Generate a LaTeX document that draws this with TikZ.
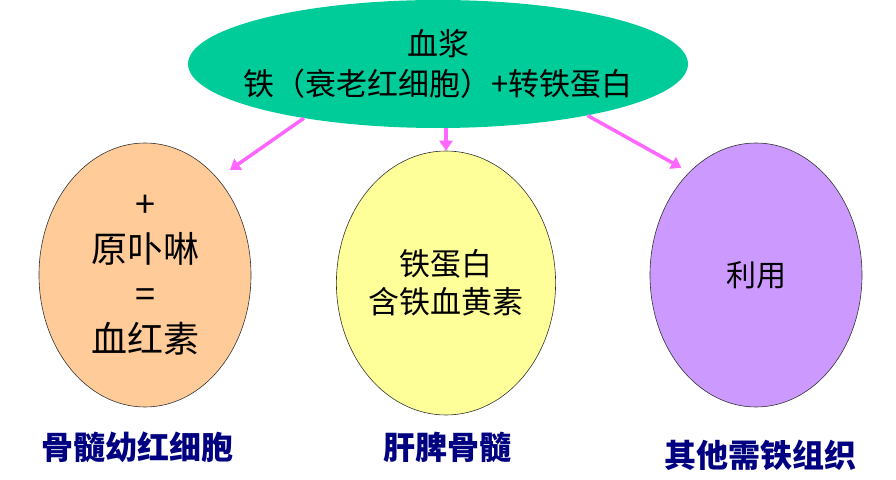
\documentclass[tikz,border=0pt]{standalone}
\usepackage{fontspec}
\setmainfont{Noto Sans CJK SC}
\usetikzlibrary{shapes.geometric, positioning, arrows.meta}
\definecolor{plasmagreen}{HTML}{00CC99}
\definecolor{orangefill}{HTML}{FFCC99}
\definecolor{yellowfill}{HTML}{FFFF99}
\definecolor{purplefill}{HTML}{CC99FF}
\definecolor{arrowpink}{HTML}{FF66FF}
\definecolor{labelnavy}{HTML}{000080}

\begin{document}
\begin{tikzpicture}[x=1pt, y=1pt,
    blob/.style={ellipse, draw=black!80, line width=0.6pt, minimum width=212pt, minimum height=264pt, inner sep=0pt, align=center},
    feed/.style={-{Triangle[length=10pt, width=13pt]}, line width=3.5pt, arrowpink},
    place/.style={font=\fontsize{32}{38}\selectfont\bfseries, text=labelnavy}]

    \useasboundingbox (0,0) rectangle (896,479);

    % --- TOP: plasma ---
    \node[ellipse, fill=plasmagreen, minimum width=500pt, minimum height=128pt] (plasma) at (438,415) {};
    \node[align=center, font=\fontsize{31}{40}\selectfont] (plasmatext) at (plasma.center) {血浆\\铁（衰老红细胞）+转铁蛋白};

    % --- BOTTOM: three places ---
    \node[blob, fill=orangefill, font=\fontsize{36}{45}\selectfont] (marrow) at (145,204) {+\\原卟啉\\=\\血红素};
    \node[blob, fill=yellowfill, font=\fontsize{31}{38}\selectfont] (liver) at (446,196) {铁蛋白\\含铁血黄素};
    \node[blob, fill=purplefill, font=\fontsize{30}{36}\selectfont] (tissue) at (756,204) {利用};

    % Labels
    \node[place] (marrowlabel) at (137,32) {骨髓幼红细胞};
    \node[place] (liverlabel) at (447,32) {肝脾骨髓};
    \node[place] (tissuelabel) at (760,24) {其他需铁组织};

    % Arrows
    \draw[feed, shorten >=15pt] (plasma.202) -- (marrow.53);
    \draw[feed] (plasma.south -| liver.north) -- (liver.north);
    \draw[feed, shorten >=9pt] (plasma.341) -- (tissue.123);

\end{tikzpicture}
\end{document}
